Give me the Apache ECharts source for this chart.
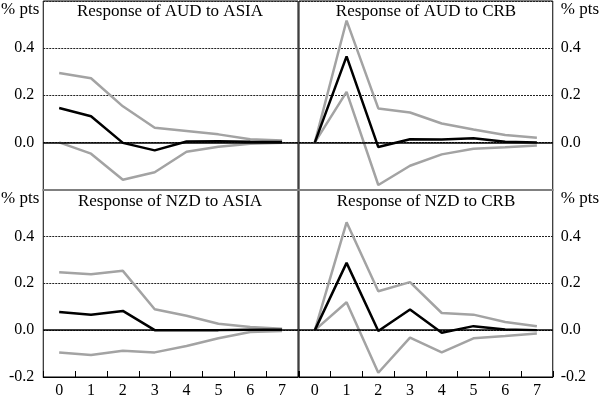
<!DOCTYPE html>
<html>
<head>
<meta charset="utf-8">
<script src="https://cdn.jsdelivr.net/npm/echarts@6/dist/echarts.min.js"></script>
<style>
  html, body { margin: 0; padding: 0; background: #fff; }
  #main { width: 600px; height: 399px; }
</style>
</head>
<body>
<div id="main"></div>
<script>
// horizon (quarters)
var steps = ['0', '1', '2', '3', '4', '5', '6', '7'];

// Response of AUD to ASIA
var audAsiaUpper = [0.294, 0.272, 0.153, 0.062, 0.048, 0.034, 0.013, 0.008];
var audAsiaMid   = [0.146, 0.111, -0.002, -0.034, 0.004, 0.005, 0.003, 0.002];
var audAsiaLower = [0.000, -0.048, -0.159, -0.127, -0.040, -0.019, -0.006, -0.002];

// Response of AUD to CRB
var audCrbUpper = [0.000, 0.517, 0.144, 0.127, 0.080, 0.055, 0.031, 0.020];
var audCrbMid   = [0.000, 0.365, -0.020, 0.013, 0.012, 0.018, 0.003, 0.000];
var audCrbLower = [0.000, 0.214, -0.181, -0.099, -0.051, -0.027, -0.021, -0.013];

// Response of NZD to ASIA
var nzdAsiaUpper = [0.247, 0.238, 0.253, 0.089, 0.061, 0.027, 0.013, 0.006];
var nzdAsiaMid   = [0.077, 0.066, 0.082, 0.000, 0.000, 0.000, 0.002, 0.002];
var nzdAsiaLower = [-0.095, -0.106, -0.088, -0.095, -0.068, -0.035, -0.008, -0.004];

// Response of NZD to CRB
var nzdCrbUpper = [0.000, 0.460, 0.166, 0.205, 0.073, 0.066, 0.035, 0.017];
var nzdCrbMid   = [0.000, 0.287, -0.004, 0.088, -0.011, 0.017, 0.003, 0.000];
var nzdCrbLower = [0.000, 0.119, -0.182, -0.032, -0.095, -0.035, -0.025, -0.014];

var titles = ['Response of AUD to ASIA', 'Response of AUD to CRB',
              'Response of NZD to ASIA', 'Response of NZD to CRB'];
var panels = [
    [audAsiaUpper, audAsiaMid, audAsiaLower],
    [audCrbUpper, audCrbMid, audCrbLower],
    [nzdAsiaUpper, nzdAsiaMid, nzdAsiaLower],
    [nzdCrbUpper, nzdCrbMid, nzdCrbLower]
];

var FONT = '"Liberation Serif", "DejaVu Serif", serif';
var GRAY = '#a3a3a3';

var grids = [
    {left: 42,  top: 1,     width: 256, height: 188.5},
    {left: 299, top: 1,     width: 255, height: 188.5},
    {left: 42,  top: 189.5, width: 256, height: 189.5},
    {left: 299, top: 189.5, width: 255, height: 189.5}
];
grids.forEach(function (g) {
    g.show = true;
    g.borderColor = '#000';
    g.borderWidth = 1;
    g.containLabel = false;
});

var xAxes = [], yAxes = [], series = [], titleList = [];
for (var i = 0; i < 4; i++) {
    var isBottom = i >= 2;
    var isRight = i % 2 === 1;
    xAxes.push({
        type: 'category',
        gridIndex: i,
        data: steps,
        boundaryGap: true,
        axisLine: {
            show: true,
            onZero: false,
            lineStyle: isBottom ? {color: '#000', width: 1} : {color: '#808080', width: 2}
        },
        axisTick: {show: isBottom, inside: true, length: 6, lineStyle: {color: '#000'}},
        axisLabel: {show: isBottom, margin: 6, color: '#000', fontFamily: FONT, fontSize: 16},
        splitLine: {show: false}
    });
    (function (bottom) {
        yAxes.push({
            type: 'value',
            gridIndex: i,
            position: isRight ? 'right' : 'left',
            min: -0.2,
            max: 0.6,
            interval: 0.2,
            name: '% pts',
            nameLocation: 'end',
            nameGap: -9,
            nameTextStyle: {
                color: '#000', fontFamily: FONT, fontSize: 17,
                align: isRight ? 'left' : 'right',
                verticalAlign: 'middle',
                padding: isRight ? [0, 0, 0, 8] : [0, 4, 0, 0]
            },
            axisLine: {show: false},
            axisTick: {show: false},
            axisLabel: {
                margin: isRight ? 8 : 9,
                color: '#000', fontFamily: FONT, fontSize: 16,
                formatter: function (v) {
                    if (Math.abs(v - 0.6) < 1e-6) return '';
                    if (!bottom && Math.abs(v + 0.2) < 1e-6) return '';
                    return v.toFixed(1);
                }
            },
            splitLine: {show: true, lineStyle: {color: '#222', width: 1, type: [2, 1]}}
        });
    })(isBottom);

    titleList.push({
        text: titles[i],
        left: isRight ? 426 : 170,
        top: isBottom ? 193 : 3,
        padding: 0,
        textAlign: 'center',
        textStyle: {color: '#000', fontFamily: FONT, fontSize: 17, fontWeight: 'normal'}
    });

    series.push({
        type: 'line', xAxisIndex: i, yAxisIndex: i, data: panels[i][0],
        symbol: 'none', silent: true, z: 3,
        lineStyle: {color: GRAY, width: 2.5}
    });
    series.push({
        type: 'line', xAxisIndex: i, yAxisIndex: i, data: panels[i][2],
        symbol: 'none', silent: true, z: 3,
        lineStyle: {color: GRAY, width: 2.5}
    });
    series.push({
        type: 'line', xAxisIndex: i, yAxisIndex: i, data: panels[i][1],
        symbol: 'none', silent: true, z: 4,
        lineStyle: {color: '#000', width: 2.5},
        markLine: {
            silent: true,
            symbol: 'none',
            label: {show: false},
            lineStyle: {color: '#000', width: 1.5, type: 'solid'},
            data: [{yAxis: 0}]
        }
    });
}

var chart = echarts.init(document.getElementById('main'));
chart.setOption({
    animation: false,
    backgroundColor: '#fff',
    title: titleList,
    grid: grids,
    xAxis: xAxes,
    yAxis: yAxes,
    series: series
});
</script>
</body>
</html>
